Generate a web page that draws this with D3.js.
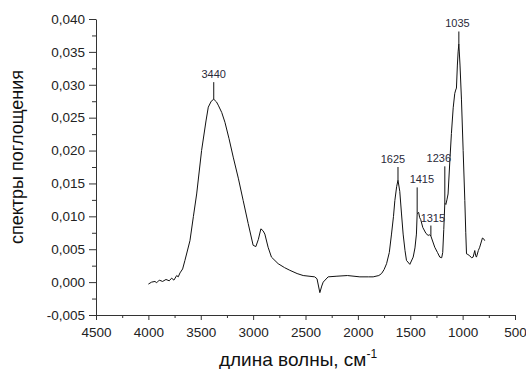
<!DOCTYPE html>
<html>
<head>
<meta charset="utf-8">
<script src="https://cdn.jsdelivr.net/npm/d3@7"></script>
<style>
  body { margin: 0; background: #fff; }
  text { font-family: Arial, "Liberation Sans", sans-serif; }
</style>
</head>
<body>
<div id="container"></div>
<script>
"use strict";

// spectrum: wavenumber (cm-1) and absorbance
const wavenumbers = [
    4000, 3969, 3937, 3921, 3896, 3864, 3832, 3801, 3778, 3756, 3730, 3715, 3698, 3673, 3651,
    3603, 3570, 3539, 3492, 3450, 3428, 3400, 3376, 3350, 3333, 3300, 3269, 3230, 3190, 3140,
    3095, 3047, 3000, 2974, 2950, 2926, 2905, 2888, 2857, 2825, 2761, 2700, 2650, 2580, 2522,
    2412, 2390, 2363, 2345, 2331, 2284, 2200, 2100, 1981, 1900, 1854, 1800, 1774, 1750, 1726,
    1700, 1679, 1660, 1647, 1630, 1617, 1600, 1584, 1568, 1550, 1536, 1504, 1472, 1455, 1441,
    1434, 1420, 1410, 1400, 1380, 1350, 1329, 1315, 1303, 1290, 1266, 1240, 1218, 1200, 1190,
    1180, 1170, 1160, 1150, 1139, 1120, 1107, 1090, 1075, 1066, 1059, 1050, 1043, 1036, 1025,
    1011, 995, 979, 970, 963, 950, 932, 915, 900, 884, 875, 868, 850, 837, 811, 800, 789
];
const absorbance = [
    -0.0003, 0.0000, 0.0001, -0.0001, 0.0003, 0.0001, 0.0004, 0.0002, 0.0006, 0.0003, 0.0010, 0.0008, 0.0014, 0.0020, 0.0033,
    0.0063, 0.0100, 0.0134, 0.0200, 0.0245, 0.0266, 0.0275, 0.0278, 0.0274, 0.0269, 0.0258, 0.0243, 0.0218, 0.0190, 0.0157,
    0.0124, 0.0089, 0.0056, 0.0054, 0.0065, 0.0081, 0.0078, 0.0073, 0.0053, 0.0038, 0.0028, 0.0022, 0.0018, 0.0013, 0.0010,
    0.0008, 0.0005, -0.0016, -0.0006, 0.0000, 0.0008, 0.0009, 0.0010, 0.0008, 0.0008, 0.0008, 0.0010, 0.0013, 0.0019, 0.0028,
    0.0045, 0.0073, 0.0100, 0.0124, 0.0145, 0.0155, 0.0138, 0.0105, 0.0073, 0.0048, 0.0033, 0.0027, 0.0038, 0.0052, 0.0073,
    0.0104, 0.0106, 0.0098, 0.0095, 0.0083, 0.0074, 0.0071, 0.0072, 0.0070, 0.0064, 0.0053, 0.0045, 0.0038, 0.0037, 0.0045,
    0.0080, 0.0120, 0.0118, 0.0125, 0.0134, 0.0190, 0.0226, 0.0265, 0.0287, 0.0292, 0.0295, 0.0330, 0.0350, 0.0362, 0.0330,
    0.0277, 0.0200, 0.0124, 0.0075, 0.0043, 0.0042, 0.0040, 0.0037, 0.0038, 0.0048, 0.0040, 0.0038, 0.0048, 0.0053, 0.0067, 0.0066, 0.0063
];

// peak annotations
const peakLabels = ["3440", "1625", "1415", "1315", "1236", "1035"];
const peakWn = [3376, 1617, 1434, 1303, 1170, 1036];
const peakBase = [0.0278, 0.0155, 0.0104, 0.0070, 0.0120, 0.0362];
const peakTop = [0.0304, 0.0175, 0.0144, 0.0086, 0.0176, 0.0381];
const labelWn = [3376, 1665, 1389, 1284, 1227, 1050];

// axis ticks
const xTicks = [4500, 4000, 3500, 3000, 2500, 2000, 1500, 1000, 500];
const yTicks = [-0.005, 0.000, 0.005, 0.010, 0.015, 0.020, 0.025, 0.030, 0.035, 0.040];

// plot frame
const width = 526, height = 369;
const plot = { left: 96, right: 515, top: 19, bottom: 315 };

const svg = d3.select("#container")
    .append("svg")
    .attr("width", width)
    .attr("height", height);

const x = d3.scaleLinear().domain([4500, 500]).range([plot.left, plot.right]);
const y = d3.scaleLinear().domain([-0.005, 0.040]).range([plot.bottom, plot.top]);

const fmt = (d) => d3.format(".3f")(d).replace(".", ",").replace("−", "-");

// minor ticks halfway between majors
const xMinor = d3.range(4250, 500, -500);
const yMinor = d3.range(-0.0025, 0.040, 0.005);

// x axis
const xAxis = svg.append("g")
    .attr("transform", `translate(0, ${plot.bottom})`)
    .call(d3.axisBottom(x).tickValues(xTicks).tickSize(5).tickSizeOuter(0).tickFormat(d3.format("d")));
xAxis.selectAll("text").style("font-size", "13.5px").attr("dy", "1.05em").attr("fill", "#222");
svg.append("g")
    .attr("transform", `translate(0, ${plot.bottom})`)
    .call(d3.axisBottom(x).tickValues(xMinor).tickSize(3).tickFormat(""))
    .select(".domain").remove();

// y axis
const yAxis = svg.append("g")
    .attr("transform", `translate(${plot.left}, 0)`)
    .call(d3.axisLeft(y).tickValues(yTicks).tickSize(7).tickSizeOuter(0).tickFormat(fmt));
yAxis.selectAll("text").style("font-size", "13.5px").attr("x", -11).attr("fill", "#222");
svg.append("g")
    .attr("transform", `translate(${plot.left}, 0)`)
    .call(d3.axisLeft(y).tickValues(yMinor).tickSize(4).tickFormat(""))
    .select(".domain").remove();

svg.selectAll(".domain, .tick line").attr("stroke", "#333");

// spectrum line
const points = wavenumbers.map((w, i) => [w, absorbance[i]]);
svg.append("path")
    .datum(points)
    .attr("fill", "none")
    .attr("stroke", "#111")
    .attr("stroke-width", 1)
    .attr("d", d3.line().x((d) => x(d[0])).y((d) => y(d[1])));

// peak marks and labels
peakLabels.forEach((lab, i) => {
    svg.append("line")
        .attr("x1", x(peakWn[i])).attr("x2", x(peakWn[i]))
        .attr("y1", y(peakBase[i])).attr("y2", y(peakTop[i]))
        .attr("stroke", "#111")
        .attr("stroke-width", 1);
    svg.append("text")
        .attr("x", x(labelWn[i]))
        .attr("y", y(peakTop[i]) - 4)
        .attr("text-anchor", "middle")
        .style("font-size", "11px")
        .attr("fill", "#2a2a3a")
        .text(lab);
});

// axis titles
svg.append("text")
    .attr("transform", `translate(23, 157) rotate(-90)`)
    .attr("text-anchor", "middle")
    .style("font-size", "18px")
    .attr("fill", "#111")
    .text("спектры поглощения");

const xTitle = svg.append("text")
    .attr("x", 298)
    .attr("y", 366)
    .attr("text-anchor", "middle")
    .style("font-size", "19px")
    .attr("fill", "#111");
xTitle.append("tspan").text("длина волны, см");
xTitle.append("tspan")
    .attr("dy", -8)
    .style("font-size", "12px")
    .text("-1");
</script>
</body>
</html>
